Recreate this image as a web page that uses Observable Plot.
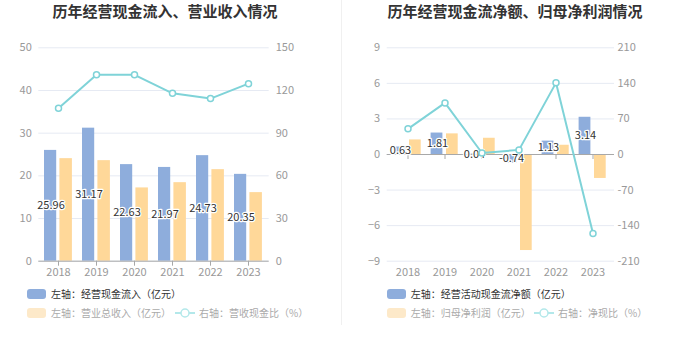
<!DOCTYPE html>
<html>
<head>
<meta charset="utf-8">
<script src="https://cdn.jsdelivr.net/npm/d3@7"></script>
<script src="https://cdn.jsdelivr.net/npm/@observablehq/plot@0.6"></script>
<style>
  html, body { margin: 0; padding: 0; background: #fff; }
  #root { position: relative; width: 680px; height: 349px; overflow: hidden; background: #fff;
          font-family: "Noto Sans CJK SC", "Noto Sans", sans-serif; }
  .title { position: absolute; top: 1px; font-size: 15px; font-weight: bold; color: #333; white-space: nowrap;
           transform: translateX(-50%); line-height: 20px; }
  .chart { position: absolute; top: 0; }
  .sep { position: absolute; left: 341px; top: 0; width: 1px; height: 325px; background: #f0f0f0; }
  .lg { position: absolute; font-size: 10px; line-height: 12px; white-space: nowrap; }
  .sw { position: absolute; width: 19px; height: 10px; border-radius: 3px; }
</style>
</head>
<body>
<div id="root">
  <div class="sep"></div>
  <div class="title" style="left:165px">历年经营现金流入、营业收入情况</div>
  <div class="title" style="left:515px">历年经营现金流净额、归母净利润情况</div>
  <div id="c1" class="chart" style="left:0"></div>
  <div id="c2" class="chart" style="left:340px"></div>
  <div id="legend"></div>
</div>
<script>
// ---- data ----
const years = ["2018", "2019", "2020", "2021", "2022", "2023"];
// left chart
const cashInflow = [25.96, 31.17, 22.63, 21.97, 24.73, 20.35];      // 亿元
const revenue = [24.03, 23.56, 17.17, 18.40, 21.45, 16.07];          // 亿元
const cashRatio = [107.5, 131.0, 131.0, 118.0, 114.3, 124.8];        // %
const leftTicks1 = [0, 10, 20, 30, 40, 50];
// right chart
const netCash = [0.63, 1.81, 0.04, -0.74, 1.13, 3.14];               // 亿元
const netProfit = [1.23, 1.74, 1.37, -8.10, 0.78, -2.02];            // 亿元
const netRatio = [50.5, 101.5, 2.9, 9.1, 141.0, -155.5];             // %
const leftTicks2 = [-9, -6, -3, 0, 3, 6, 9];

const BLUE = "#8eaddc", ORANGE = "#ffd899", TEAL = "#7fd3d8";
const GRID = "#e6eaf3", AXIS = "#a8a8a8", TICKTXT = "#999";

const rows1 = years.map((y, i) => ({year: y, a: cashInflow[i], b: revenue[i], r: cashRatio[i]}));
const rows2 = years.map((y, i) => ({year: y, a: netCash[i], b: netProfit[i], r: netRatio[i]}));

function chart({rows, ticks, domain, k, ml, mr, ins, rpad}) {
  return Plot.plot({
    width: 340, height: 285,
    marginTop: 47.3, marginBottom: 24.3, marginLeft: ml, marginRight: mr,
    style: {fontSize: "11px", fontFamily: "'Noto Sans CJK SC', 'Noto Sans', sans-serif", color: TICKTXT, background: "transparent", overflow: "visible"},
    x: {type: "band", domain: years, padding: 0},
    y: {domain, ticks},
    marks: [
      Plot.ruleY(ticks, {stroke: GRID}),
      Plot.barY(rows, {x: "year", y: "a", fill: BLUE, insetLeft: ins[0], insetRight: ins[1]}),
      Plot.barY(rows, {x: "year", y: "b", fill: ORANGE, insetLeft: ins[2], insetRight: ins[3]}),
      Plot.ruleY([0], {stroke: AXIS}),
      Plot.ruleX(rows, {x: "year", y1: 0, y2: 0, stroke: AXIS, insetBottom: -5}),
      Plot.text(rows, {x: "year", y: d => d.a / 2, text: d => d.a.toFixed(2), dx: -7.5,
        fill: "#333", stroke: "white", strokeWidth: 2.5, fontSize: 11}),
      Plot.line(rows, {x: "year", y: d => d.r / k, stroke: TEAL, strokeWidth: 2}),
      Plot.dot(rows, {x: "year", y: d => d.r / k, r: 3, stroke: TEAL, strokeWidth: 1.5, fill: "white"}),
      Plot.axisY({anchor: "left", ticks, tickSize: 0, tickPadding: 7, label: null}),
      Plot.axisY({anchor: "right", ticks, tickSize: 0, tickPadding: rpad, label: null, tickFormat: d => Math.round(d * k)}),
      Plot.axisX({anchor: "bottom", tickSize: 0, tickPadding: 6.5, label: null})
    ]
  });
}

document.getElementById("c1").append(chart({
  rows: rows1, ticks: leftTicks1, domain: [0, 50], k: 3, ml: 38.3, mr: 71.3,
  ins: [5, 20.8, 20.4, 5.1], rpad: 6.5
}));
document.getElementById("c2").append(chart({
  rows: rows2, ticks: leftTicks2, domain: [-9, 9], k: 70 / 3, ml: 46.7, mr: 66,
  ins: [4.6, 20.6, 20, 5.3], rpad: 3
}));

// ---- legends ----
const legendItems = [
  {type: "sw", x: 27, y: 294, color: BLUE, text: "左轴：经营现金流入（亿元）", tcol: "#333"},
  {type: "sw", x: 27, y: 313, color: "#fde9c9", text: "左轴：营业总收入（亿元）", tcol: "#aaa"},
  {type: "ln", x: 175, y: 313, color: "#b3e8ea", text: "右轴：营收现金比（%）", tcol: "#aaa"},
  {type: "sw", x: 386.7, y: 294, color: BLUE, text: "左轴：经营活动现金流净额（亿元）", tcol: "#333"},
  {type: "sw", x: 386.7, y: 313, color: "#fde9c9", text: "左轴：归母净利润（亿元）", tcol: "#aaa"},
  {type: "ln", x: 534, y: 313, color: "#b3e8ea", text: "右轴：净现比（%）", tcol: "#aaa"}
];
const lg = document.getElementById("legend");
for (const it of legendItems) {
  if (it.type === "sw") {
    const s = document.createElement("div");
    s.className = "sw";
    s.style.left = it.x + "px"; s.style.top = (it.y - 5) + "px"; s.style.background = it.color;
    lg.append(s);
  } else {
    const ns = "http://www.w3.org/2000/svg";
    const svg = document.createElementNS(ns, "svg");
    svg.setAttribute("width", 20); svg.setAttribute("height", 12);
    svg.style.position = "absolute"; svg.style.left = it.x + "px"; svg.style.top = (it.y - 6) + "px";
    const l = document.createElementNS(ns, "line");
    l.setAttribute("x1", 0); l.setAttribute("x2", 20); l.setAttribute("y1", 6); l.setAttribute("y2", 6);
    l.setAttribute("stroke", it.color); l.setAttribute("stroke-width", 2);
    const c = document.createElementNS(ns, "circle");
    c.setAttribute("cx", 10); c.setAttribute("cy", 6); c.setAttribute("r", 4);
    c.setAttribute("fill", "white"); c.setAttribute("stroke", it.color); c.setAttribute("stroke-width", 1.5);
    svg.append(l, c);
    lg.append(svg);
  }
  const t = document.createElement("div");
  t.className = "lg";
  t.textContent = it.text;
  t.style.left = (it.x + 24) + "px";
  t.style.top = (it.y - 6) + "px";
  t.style.color = it.tcol;
  lg.append(t);
}
</script>
</body>
</html>
